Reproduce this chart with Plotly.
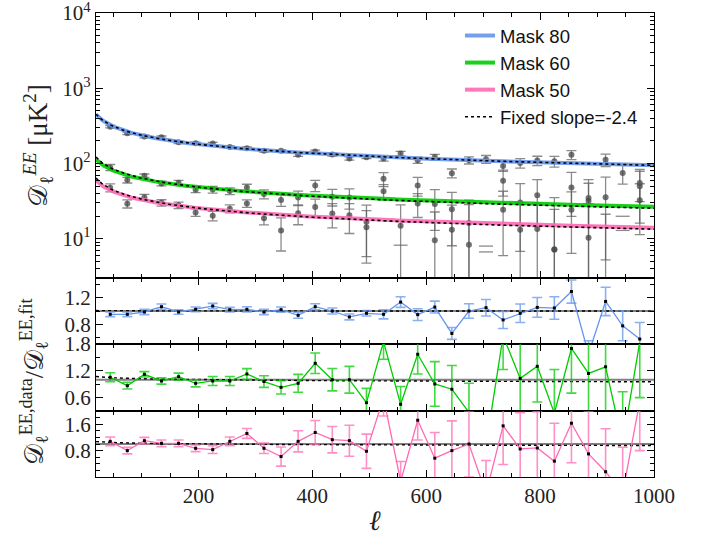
import numpy as np
import plotly.graph_objects as go
from plotly.subplots import make_subplots

# ---------------- data ----------------
ell = [45, 75, 105, 135, 165, 195, 225, 255, 285, 315, 345, 375, 405, 435, 465, 495,
       525, 555, 585, 615, 645, 675, 705, 735, 765, 795, 825, 855, 885, 915, 945, 975]

ratio_80 = [0.95, 0.95, 0.985, 1.065, 0.985, 1.025, 1.075, 1.02, 1.025, 0.985, 1.02, 0.935,
            1.065, 1.0, 0.91, 0.965, 0.95, 1.135, 0.945, 1.06, 0.66, 1.0, 1.05, 0.865,
            0.965, 1.055, 1.045, 1.295, 0.35, 1.145, 0.775, 0.575]
err_80 = [0.035, 0.035, 0.04, 0.04, 0.035, 0.035, 0.04, 0.035, 0.04, 0.04, 0.04, 0.045,
          0.045, 0.045, 0.045, 0.04, 0.07, 0.08, 0.09, 0.09, 0.09, 0.11, 0.125, 0.13,
          0.14, 0.15, 0.17, 0.175, 0.2, 0.215, 0.225, 0.25]

ratio_60 = [1.055, 0.867, 1.122, 0.972, 1.068, 0.92, 0.972, 0.972, 1.129, 0.96, 0.83, 0.92,
            1.368, 1.0, 1.0, 0.487, 1.85, 0.45, 1.57, 0.905, 0.787, 0.27, -0.48, 1.98,
            1.03, 1.3, 0.25, 1.70, 1.14, 1.29, -0.42, 1.85]
err_60 = [0.1, 0.075, 0.06, 0.07, 0.08, 0.08, 0.1, 0.1, 0.12, 0.13, 0.15, 0.2,
          0.23, 0.25, 0.3, 0.32, 0.39, 0.4, 0.44, 0.5, 0.53, 0.65, 0.7, 0.75,
          0.8, 0.8, 0.98, 1.0, 1.05, 1.1, 1.15, 1.25]

ratio_50 = [1.08, 0.80, 1.10, 1.02, 1.02, 0.87, 0.83, 1.08, 1.32, 0.87, 0.62, 1.08,
            1.35, 1.13, 1.10, 0.78, 2.4, -0.13, 1.72, 0.57, 0.80, 1.0, -0.5, 1.55,
            0.85, 0.88, 0.48, 1.63, 0.70, 0.16, -0.5, 2.3]
err_50 = [0.13, 0.1, 0.1, 0.1, 0.1, 0.1, 0.12, 0.13, 0.15, 0.16, 0.29, 0.32,
          0.36, 0.4, 0.47, 0.52, 0.55, 0.6, 0.6, 0.78, 0.9, 1.0, 1.0, 1.17,
          1.1, 1.1, 1.15, 1.2, 1.3, 1.3, 1.4, 1.5]

mask_names = ["Mask 80", "Mask 60", "Mask 50"]
mask_colors = ["#6495ED", "#00CC00", "#FF69B4"]
bar_colors = ["rgba(100,149,237,0.75)", "rgba(0,204,0,0.75)", "rgba(255,105,180,0.75)"]
fit_pivot = 500.0
free_amp = [124.5, 34.4, 18.1]
free_slope = [-0.398, -0.37, -0.37]
fixed_amp = [124.5, 33.5, 17.63]
fixed_slope = -0.4
fixed_label = "Fixed slope=-2.4"

y_main_ticks = [10, 100, 1000, 10000]
y_main_ticktext = ["10<sup>1</sup>", "10<sup>2</sup>", "10<sup>3</sup>", "10<sup>4</sup>"]
ratio_ticks = [[0.8, 1.2], [0.6, 1.2, 1.8], [0.8, 1.6]]
ratio_ranges = [[0.5, 1.5], [0.3, 1.8], [0, 2]]
ratio_minor = [0.2, 0.3, 0.2]

# ---------------- figure ----------------
ratios = [ratio_80, ratio_60, ratio_50]
errs = [err_80, err_60, err_50]
ell_arr = np.array(ell, dtype=float)
ell_grid = np.linspace(20, 1000, 400)

def free_fit(i, l):
    return free_amp[i] * (np.asarray(l) / fit_pivot) ** free_slope[i]

def fixed_fit(i, l):
    return fixed_amp[i] * (np.asarray(l) / fit_pivot) ** fixed_slope

fig = make_subplots(rows=4, cols=1, shared_xaxes=True, vertical_spacing=0,
                    row_heights=[265, 66, 67, 66])

serif = "Liberation Serif"
txt = "#222"

# main panel: data points
for i in range(3):
    r = np.array(ratios[i])
    e = np.array(errs[i])
    fitv = free_fit(i, ell_arr)
    d = r * fitv
    de = e * fitv
    pos = d > 0
    fig.add_trace(go.Scatter(
        x=ell_arr[pos], y=d[pos], mode="markers", showlegend=False,
        marker=dict(color="rgba(70,70,70,0.75)", size=6),
        error_y=dict(type="data", array=de[pos], color="rgba(90,90,90,0.7)",
                     thickness=1.3, width=5),
        hoverinfo="skip"), row=1, col=1)
    neg = (~pos) & (d + de > 0)
    if neg.any():
        fig.add_trace(go.Scatter(
            x=ell_arr[neg], y=(d + de)[neg], mode="markers", showlegend=False,
            marker=dict(symbol="line-ew", size=10,
                        line=dict(color="rgba(90,90,90,0.7)", width=1.3)),
            hoverinfo="skip"), row=1, col=1)

# main panel: fits
for i in range(3):
    fig.add_trace(go.Scatter(
        x=ell_grid, y=free_fit(i, ell_grid), mode="lines", name=mask_names[i],
        line=dict(color=mask_colors[i], width=4), opacity=0.9,
        hoverinfo="skip"), row=1, col=1)
for i in range(3):
    fig.add_trace(go.Scatter(
        x=ell_grid, y=fixed_fit(i, ell_grid), mode="lines", name=fixed_label,
        showlegend=(i == 0),
        line=dict(color="black", width=1.6, dash="dot"),
        hoverinfo="skip"), row=1, col=1)

# ratio panels
for i in range(3):
    row = i + 2
    fig.add_trace(go.Scatter(
        x=[20, 1000], y=[1, 1], mode="lines", showlegend=False,
        line=dict(color="gray", width=2), hoverinfo="skip"), row=row, col=1)
    fig.add_trace(go.Scatter(
        x=ell_grid, y=fixed_fit(i, ell_grid) / free_fit(i, ell_grid), mode="lines",
        showlegend=False, line=dict(color="black", width=1.4, dash="dot"),
        hoverinfo="skip"), row=row, col=1)
    fig.add_trace(go.Scatter(
        x=ell, y=ratios[i], mode="lines+markers", showlegend=False,
        line=dict(color=mask_colors[i], width=1.3),
        marker=dict(color="black", size=3, symbol="square"),
        error_y=dict(type="data", array=errs[i], color=bar_colors[i],
                     thickness=1.6, width=5),
        hoverinfo="skip"), row=row, col=1)

axis_common = dict(showline=True, linecolor="black", linewidth=1.2, mirror="allticks",
                   ticks="inside", tickcolor="black", showgrid=False, zeroline=False,
                   automargin=False, ticklabeloverflow="allow",
                   tickfont=dict(family=serif, size=21, color=txt))

for r in range(1, 5):
    fig.update_xaxes(range=[20, 1000], tick0=0, dtick=200, ticklen=7, tickwidth=1.3,
                     minor=dict(ticks="inside", dtick=50, tick0=0, ticklen=4,
                                tickcolor="black", tickwidth=1),
                     row=r, col=1, **axis_common)
fig.update_xaxes(showticklabels=True, row=4, col=1)

fig.update_yaxes(type="log", range=[np.log10(3), 4.0001], tickvals=y_main_ticks,
                 ticktext=y_main_ticktext, ticklen=7, tickwidth=1.3,
                 minor=dict(ticks="inside", ticklen=4, tickcolor="black", tickwidth=1,
                            dtick="D1"),
                 row=1, col=1, **axis_common)
for i in range(3):
    fig.update_yaxes(range=ratio_ranges[i], tickvals=ratio_ticks[i], ticklen=7,
                     tickwidth=1.3,
                     minor=dict(ticks="inside", dtick=ratio_minor[i], tick0=0, ticklen=4,
                                tickcolor="black", tickwidth=1),
                     row=i + 2, col=1, **axis_common)

H = 464.0
fig.update_layout(
    yaxis=dict(domain=[1 - 265 / H, 1]),
    yaxis2=dict(domain=[1 - 331 / H, 1 - 265 / H]),
    yaxis3=dict(domain=[1 - 398 / H, 1 - 331 / H]),
    yaxis4=dict(domain=[0, 1 - 398 / H]),
)

fig.update_yaxes(title=dict(text="𝒟<sub>ℓ</sub><sup><i>EE</i></sup> [μK<sup>2</sup>]",
                            font=dict(family=serif, size=27, color=txt), standoff=6),
                 row=1, col=1)

fig.add_annotation(text="𝒟<sub>ℓ</sub><sup>EE,data</sup>/𝒟<sub>ℓ</sub><sup>EE,fit</sup>",
                   xref="paper", yref="paper", x=(34 - 96) / 558, y=(477 - 382) / H,
                   textangle=-90,
                   showarrow=False, font=dict(family=serif, size=26, color=txt),
                   xanchor="center", yanchor="middle")
fig.add_annotation(text="<i>ℓ</i>", xref="paper", yref="paper", x=0.5,
                   y=(477 - 520) / H,
                   showarrow=False, font=dict(family=serif, size=28, color=txt),
                   xanchor="center", yanchor="middle")

fig.update_layout(
    width=704, height=537,
    margin=dict(l=96, r=50, t=13, b=60, autoexpand=False),
    paper_bgcolor="white", plot_bgcolor="white",
    showlegend=True,
    legend=dict(x=(460 - 96) / 558, y=1 - 4 / H, xanchor="left", yanchor="top",
                font=dict(family="Liberation Sans", size=18.5, color="#111"),
                bgcolor="rgba(0,0,0,0)"),
)

fig.write_html("out.html",
               config={"displayModeBar": False},
               post_script="document.body.style.margin='0px';"
                           "document.body.style.overflow='hidden';")
